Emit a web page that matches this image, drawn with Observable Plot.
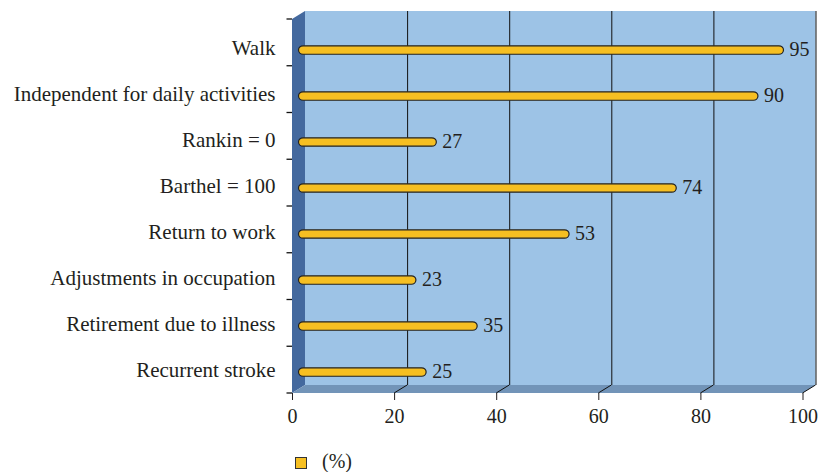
<!DOCTYPE html>
<html>
<head>
<meta charset="utf-8">
<script src="https://cdn.jsdelivr.net/npm/d3@7"></script>
<script src="https://cdn.jsdelivr.net/npm/@observablehq/plot@0.6"></script>
<style>
  body { margin: 0; background: #fff; }
  #chart svg { display: block; }
  #chart svg [aria-label^="y-axis"] text { font-size: 21px; }
  #legend { position: relative; width: 820px; height: 32px; font-family: "Liberation Serif", "Times New Roman", serif; color: #231F20; }
  #legend .sw { position: absolute; left: 295px; top: 16.5px; width: 10px; height: 10px; border: 1px solid #333; }
  #legend .lt { position: absolute; left: 322px; top: 11px; font-size: 20px; line-height: 20px; }
</style>
</head>
<body>
<div id="chart"></div>
<div id="legend"></div>
<script>
// ---- data ----
const categories = [
  "Walk",
  "Independent for daily activities",
  "Rankin = 0",
  "Barthel = 100",
  "Return to work",
  "Adjustments in occupation",
  "Retirement due to illness",
  "Recurrent stroke"
];
const values = [95, 90, 27, 74, 53, 23, 35, 25];
const xTicks = [0, 20, 40, 60, 80, 100];
const seriesName = "(%)";

const data = categories.map((c, i) => ({category: c, value: values[i]}));

// ---- layout / style ----
const W = 820, H = 440;
const mL = 292, mR = 17.5, mT = 19, mB = 47;
const depthX = 13, depthY = -8;      // back wall offset
const barDx = 6.5;                   // bars drawn at mid depth
const labelShift = 3;                // category label offset
const barShift = 2;                  // bar offset relative to label position
const barColor = "#F6BF22";
const wallBack = "#9DC3E6", wallLeft = "#44699E", wallFloor = "#7294B8";
const font = "'Liberation Serif', 'Times New Roman', serif";

const step = (H - mT - mB) / categories.length;
const barH = 9.2;

// 3D walls + boundary ticks, drawn with the plot's scales
const walls = (index, scales, vals, dims) => {
  const x = scales.x;
  const x0 = x(0), x1 = x(100);
  const top = dims.marginTop, bottom = dims.height - dims.marginBottom;
  const g = d3.create("svg:g");
  g.append("rect")
    .attr("x", x0 + depthX).attr("y", top + depthY)
    .attr("width", x1 - x0).attr("height", bottom - top)
    .attr("fill", wallBack);
  g.append("path")
    .attr("d", `M${x0},${top}L${x0 + depthX},${top + depthY}L${x0 + depthX},${bottom + depthY}L${x0},${bottom}Z`)
    .attr("fill", wallLeft);
  g.append("path")
    .attr("d", `M${x0},${bottom}L${x1},${bottom}L${x1 + depthX},${bottom + depthY}L${x0 + depthX},${bottom + depthY}Z`)
    .attr("fill", wallFloor);
  for (const t of xTicks.slice(1)) {
    g.append("line")
      .attr("x1", x(t)).attr("y1", bottom)
      .attr("x2", x(t) + depthX).attr("y2", bottom + depthY)
      .attr("stroke", "#111").attr("stroke-width", 1);
  }
  const n = categories.length;
  const st = (bottom - top) / n;
  for (let i = 0; i <= n; i++) {
    const yy = top + i * st;
    g.append("line")
      .attr("x1", x0 - 5.5).attr("x2", x0)
      .attr("y1", yy).attr("y2", yy)
      .attr("stroke", "#111").attr("stroke-width", 1.3);
  }
  return g.node();
};

const chart = Plot.plot({
  width: W,
  height: H,
  marginLeft: mL,
  marginRight: mR,
  marginTop: mT,
  marginBottom: mB,
  style: {fontFamily: font, fontSize: "20px", color: "#231F20", background: "transparent", overflow: "visible"},
  x: {domain: [0, 100], ticks: xTicks, tickSize: 7, tickPadding: 8, label: null},
  y: {domain: categories, range: [mT + labelShift, H - mB + labelShift], padding: 0, tickSize: 0, tickPadding: 17, label: null},
  marks: [
    walls,
    Plot.ruleX(xTicks.slice(1), {x: d => d, dx: depthX, dy: depthY, stroke: "#111", strokeWidth: 1}),
    Plot.barX(data, {
      y: "category", x: "value",
      fill: barColor, stroke: "#222", strokeWidth: 1.2,
      insetTop: (step - barH) / 2, insetBottom: (step - barH) / 2,
      rx: barH / 2, ry: barH / 2,
      dx: barDx, dy: barShift
    }),
    Plot.text(data, {
      y: "category", x: "value",
      text: d => String(d.value),
      textAnchor: "start",
      fontSize: 20,
      fill: "#231F20",
      dx: barDx + 5.5, dy: barShift - 1
    })
  ]
});
document.getElementById("chart").append(chart);

const lg = d3.select("#legend");
lg.append("span").attr("class", "sw").style("background", barColor);
lg.append("span").attr("class", "lt").text(seriesName);
</script>
</body>
</html>
